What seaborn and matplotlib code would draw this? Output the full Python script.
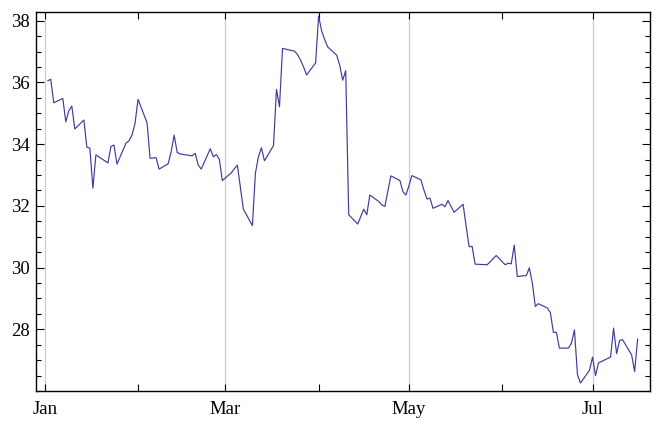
import matplotlib
matplotlib.use("Agg")
import matplotlib.pyplot as plt
import matplotlib.dates as mdates
from matplotlib.ticker import MultipleLocator
import seaborn as sns
import pandas as pd

dates = [
    "2008-01-02", "2008-01-03", "2008-01-04", "2008-01-07", "2008-01-08", "2008-01-09",
    "2008-01-10", "2008-01-11", "2008-01-14", "2008-01-15", "2008-01-16", "2008-01-17",
    "2008-01-18", "2008-01-22", "2008-01-23", "2008-01-24", "2008-01-25", "2008-01-28",
    "2008-01-29", "2008-01-30", "2008-01-31", "2008-02-01", "2008-02-04", "2008-02-05",
    "2008-02-06", "2008-02-07", "2008-02-08", "2008-02-11", "2008-02-12", "2008-02-13",
    "2008-02-14", "2008-02-15", "2008-02-19", "2008-02-20", "2008-02-21", "2008-02-22",
    "2008-02-25", "2008-02-26", "2008-02-27", "2008-02-28", "2008-02-29", "2008-03-03",
    "2008-03-04", "2008-03-05", "2008-03-06", "2008-03-07", "2008-03-10", "2008-03-11",
    "2008-03-12", "2008-03-13", "2008-03-14", "2008-03-17", "2008-03-18", "2008-03-19",
    "2008-03-20", "2008-03-24", "2008-03-25", "2008-03-26", "2008-03-27", "2008-03-28",
    "2008-03-31", "2008-04-01", "2008-04-02", "2008-04-03", "2008-04-04", "2008-04-07",
    "2008-04-08", "2008-04-09", "2008-04-10", "2008-04-11", "2008-04-14", "2008-04-15",
    "2008-04-16", "2008-04-17", "2008-04-18", "2008-04-21", "2008-04-22", "2008-04-23",
    "2008-04-24", "2008-04-25", "2008-04-28", "2008-04-29", "2008-04-30", "2008-05-01",
    "2008-05-02", "2008-05-05", "2008-05-06", "2008-05-07", "2008-05-08", "2008-05-09",
    "2008-05-12", "2008-05-13", "2008-05-14", "2008-05-15", "2008-05-16", "2008-05-19",
    "2008-05-20", "2008-05-21", "2008-05-22", "2008-05-23", "2008-05-27", "2008-05-28",
    "2008-05-29", "2008-05-30", "2008-06-02", "2008-06-03", "2008-06-04", "2008-06-05",
    "2008-06-06", "2008-06-09", "2008-06-10", "2008-06-11", "2008-06-12", "2008-06-13",
    "2008-06-16", "2008-06-17", "2008-06-18", "2008-06-19", "2008-06-20", "2008-06-23",
    "2008-06-24", "2008-06-25", "2008-06-26", "2008-06-27", "2008-06-30", "2008-07-01",
    "2008-07-02", "2008-07-03", "2008-07-07", "2008-07-08", "2008-07-09", "2008-07-10",
    "2008-07-11", "2008-07-14", "2008-07-15", "2008-07-16",
]

prices = [
    36.05, 36.10, 35.34, 35.48, 34.72, 35.08,
    35.23, 34.49, 34.78, 33.90, 33.87, 32.57,
    33.65, 33.39, 33.92, 33.97, 33.35, 34.03,
    34.11, 34.29, 34.67, 35.45, 34.69, 33.54,
    33.55, 33.56, 33.19, 33.36, 33.75, 34.29,
    33.73, 33.68, 33.62, 33.70, 33.32, 33.19,
    33.85, 33.59, 33.66, 33.51, 32.82, 33.07,
    33.20, 33.32, 32.60, 31.89, 31.36, 33.06,
    33.59, 33.88, 33.46, 33.95, 35.77, 35.21,
    37.10, 37.01, 36.90, 36.72, 36.50, 36.24,
    36.63, 38.15, 37.67, 37.39, 37.15, 36.88,
    36.56, 36.07, 36.38, 31.71, 31.41, 31.65,
    31.89, 31.71, 32.35, 32.14, 32.03, 31.98,
    32.48, 32.97, 32.82, 32.46, 32.35, 32.65,
    32.98, 32.84, 32.51, 32.22, 32.25, 31.92,
    32.05, 31.97, 32.17, 31.98, 31.79, 32.05,
    31.35, 30.68, 30.68, 30.11, 30.09, 30.19,
    30.29, 30.39, 30.09, 30.14, 30.12, 30.73,
    29.71, 29.74, 29.99, 29.50, 28.74, 28.83,
    28.69, 28.54, 27.90, 27.90, 27.39, 27.39,
    27.55, 27.98, 26.53, 26.26, 26.67, 27.10,
    26.50, 26.91, 27.10, 28.04, 27.21, 27.64,
    27.66, 27.17, 26.63, 27.69,
]

y_ticks = [28, 30, 32, 34, 36, 38]
labeled_months = [1, 3, 5, 7]
unlabeled_months = [2, 4, 6]

df = pd.DataFrame({"date": pd.to_datetime(dates), "price": prices})

sns.set_style("ticks")
plt.rcParams["font.family"] = ["Liberation Serif", "DejaVu Serif"]

fig = plt.figure(figsize=(6.56, 4.25), dpi=100)
ax = fig.add_axes([36 / 656, 1 - 391 / 425, (650 - 36) / 656, (391 - 12) / 425])

sns.lineplot(data=df, x="date", y="price", color="#3d3d99", linewidth=0.85, ax=ax)

x0 = pd.Timestamp("2008-01-01")
ax.set_xlim(x0 - pd.Timedelta(days=2.9), x0 + pd.Timedelta(days=201.1))
ax.set_ylim(26.0, 38.28)

ax.xaxis.set_major_locator(mdates.MonthLocator(bymonth=labeled_months))
ax.xaxis.set_minor_locator(mdates.MonthLocator(bymonth=unlabeled_months))
ax.xaxis.set_major_formatter(mdates.DateFormatter("%b"))
ax.set_yticks(y_ticks)
ax.yaxis.set_minor_locator(MultipleLocator(0.5))

ax.grid(axis="x", which="major", color="#cccccc", linewidth=0.9)
ax.set_axisbelow(True)

for s in ax.spines.values():
    s.set_visible(True)
    s.set_color("black")
    s.set_linewidth(1.0)

ax.tick_params(axis="both", which="both", direction="in", top=True, right=True,
               colors="black", width=0.8)
ax.tick_params(axis="x", which="both", length=5.2, pad=7)
ax.tick_params(axis="y", which="major", length=5.5, pad=4.5)
ax.tick_params(axis="y", which="minor", length=3.6)
ax.tick_params(axis="both", which="major", labelsize=13.5)

ax.set_xlabel("")
ax.set_ylabel("")

fig.savefig("out.png", dpi=100)
